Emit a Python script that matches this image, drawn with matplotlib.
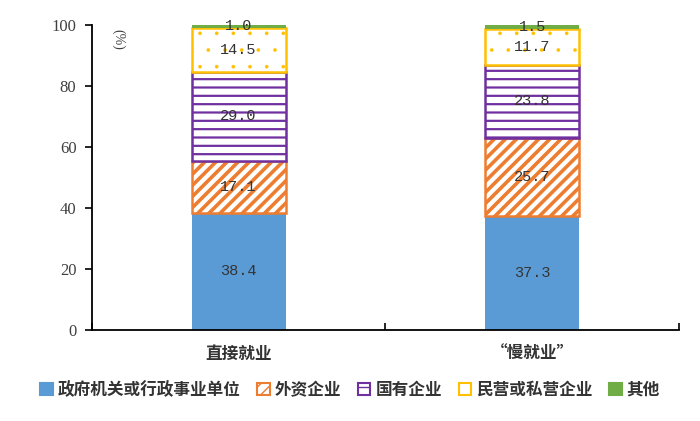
import matplotlib
matplotlib.use('Agg')
import matplotlib.pyplot as plt
from matplotlib.patches import Patch
import numpy as np

# data
categories = ['直接就业', '“慢就业”']
series_names = ['政府机关或行政事业单位', '外资企业', '国有企业', '民营或私营企业', '其他']
gov = [38.4, 37.3]
foreign = [17.1, 25.7]
state = [29.0, 23.8]
private = [14.5, 11.7]
other = [1.0, 1.5]
yticks = [0, 20, 40, 60, 80, 100]

cjk = ['Noto Sans CJK SC', 'DejaVu Sans']
plt.rcParams['font.family'] = cjk

# style per series: face, edge, hatch, hatch linewidth
styles = [
    dict(facecolor='#5B9BD5', edgecolor='none', hatch=None, hlw=1.0),
    dict(facecolor='white', edgecolor='#ED7D31', hatch='///', hlw=2.6),
    dict(facecolor='white', edgecolor='#7030A0', hatch='--', hlw=1.6),
    dict(facecolor='white', edgecolor='#FFC000', hatch='.', hlw=0.2),
    dict(facecolor='#70AD47', edgecolor='none', hatch=None, hlw=1.0),
]
all_series = [gov, foreign, state, private, other]

fig = plt.figure(figsize=(7, 4.21), dpi=100)
ax = fig.add_axes([0.131, 0.216, 0.839, 0.725])

x = np.arange(len(categories))
bottom = np.zeros(len(categories))
width = 0.32
label_color = '#404040'
for vals, st in zip(all_series, styles):
    plt.rcParams['hatch.linewidth'] = st['hlw']
    bars = ax.bar(x, vals, width, bottom=bottom, facecolor=st['facecolor'],
                  edgecolor=st['edgecolor'], hatch=st['hatch'],
                  linewidth=1.8 if st['edgecolor'] != 'none' else 0)
    for b in bars:
        if hasattr(b, 'set_hatch_linewidth'):
            b.set_hatch_linewidth(st['hlw'])
    for xi, v, b0 in zip(x, vals, bottom):
        ax.text(xi, b0 + v / 2, f'{v:.1f}', ha='center', va='center',
                fontsize=11, family='Liberation Mono', color='#333333')
    bottom = bottom + np.array(vals)

ax.set_xlim(-0.5, 1.5)
ax.set_ylim(0, 100)
ax.set_yticks(yticks)
ax.set_yticklabels([str(t) for t in yticks], family='Liberation Serif',
                   fontsize=12, color=label_color)
ax.tick_params(axis='y', direction='out', length=5, width=1.2, pad=6)

ax.set_xticks(x)
ax.set_xticklabels(categories, fontsize=12, color='#333333', fontweight='bold')
ax.tick_params(axis='x', which='major', length=0, pad=11)
ax.set_xticks([-0.5, 0.5, 1.5], minor=True)
ax.tick_params(axis='x', which='minor', direction='in', length=5, width=1.2)

for s in ['top', 'right']:
    ax.spines[s].set_visible(False)
ax.spines['left'].set_linewidth(1.3)
ax.spines['bottom'].set_linewidth(1.3)

ax.text(0.045, 0.985, '(%)', transform=ax.transAxes, rotation=270,
        ha='center', va='top', fontsize=10, color=label_color,
        family='Liberation Serif')

# legend
handles = []
for name, st in zip(series_names, styles):
    ec = st['edgecolor'] if st['edgecolor'] != 'none' else st['facecolor']
    hatch = st['hatch'] if st['hatch'] != '.' else None
    handles.append(Patch(facecolor=st['facecolor'], edgecolor=ec,
                         hatch=hatch, linewidth=1.5, label=name))
fig.legend(handles=handles, loc='center', bbox_to_anchor=(0.5, 0.074),
           ncol=5, frameon=False, handlelength=0.75,
           handleheight=0.75, handletextpad=0.3, columnspacing=1.0,
           labelcolor='#333333', prop={'family': cjk, 'size': 12, 'weight': 'bold'})

fig.savefig('out.png', dpi=100)
